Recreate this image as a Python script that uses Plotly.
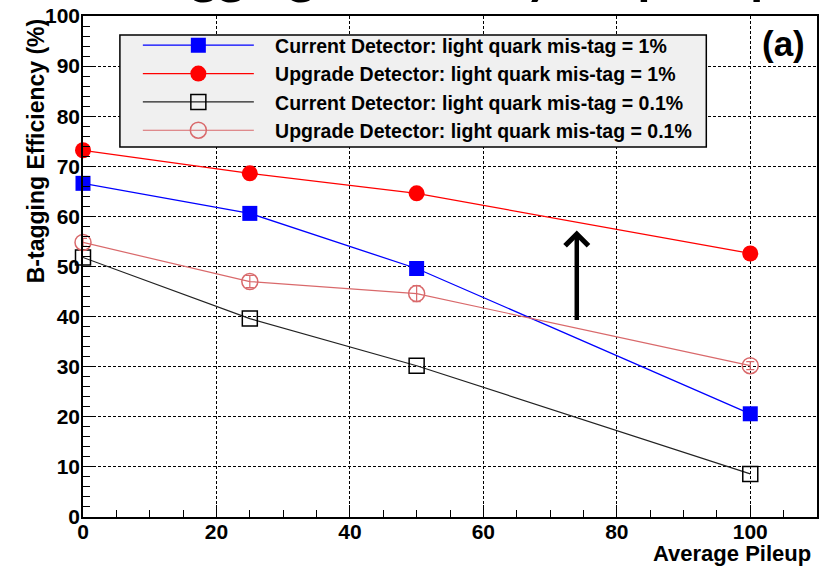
import plotly.graph_objects as go

pileup = [0, 25, 50, 100]
cur_1pct = [66.6, 60.6, 49.6, 20.6]
upg_1pct = [73.2, 68.6, 64.6, 52.6]
cur_01pct = [51.8, 39.6, 30.2, 8.6]
upg_01pct = [54.8, 47.0, 44.6, 30.2]
upg_01pct_err = [0.8, 1.2, 1.6, 0.8]

names = [
    "Current Detector: light quark mis-tag = 1%",
    "Upgrade Detector: light quark mis-tag = 1%",
    "Current Detector: light quark mis-tag = 0.1%",
    "Upgrade Detector: light quark mis-tag = 0.1%",
]

arrow_x = 74
arrow_y0 = 39.0
arrow_y1 = 57.2

FONT = "Liberation Sans, Arial, sans-serif"
PINK = "#d9696b"
PAD = "\u00a0\u00a0\u00a0"

fig = go.Figure()
fig.add_trace(go.Scatter(x=pileup, y=cur_1pct, mode="lines+markers", name=PAD + names[0],
                         cliponaxis=False,
                         line=dict(color="#0000ff", width=1.3),
                         marker=dict(symbol="square", size=15, color="#0000ff")))
fig.add_trace(go.Scatter(x=pileup, y=upg_1pct, mode="lines+markers", name=PAD + names[1],
                         cliponaxis=False,
                         line=dict(color="#ff0000", width=1.3),
                         marker=dict(symbol="circle", size=16, color="#ff0000")))
fig.add_trace(go.Scatter(x=pileup, y=cur_01pct, mode="lines+markers", name=PAD + names[2],
                         cliponaxis=False,
                         line=dict(color="#222222", width=1.2),
                         marker=dict(symbol="square-open", size=15, color="#000000",
                                     line=dict(width=1.5))))
fig.add_trace(go.Scatter(x=pileup, y=upg_01pct, mode="lines+markers", name=PAD + names[3],
                         cliponaxis=False,
                         line=dict(color=PINK, width=1.2),
                         marker=dict(symbol="circle-open", size=16, color=PINK,
                                     line=dict(width=1.5)),
                         error_y=dict(type="data", array=upg_01pct_err, color=PINK,
                                      thickness=1.2, width=4)))

axis_common = dict(
    showline=True, linecolor="black", linewidth=1.5, mirror=True,
    ticks="inside", tickcolor="black", ticklen=12, tickwidth=1,
    showgrid=True, gridcolor="black", gridwidth=1, griddash="3px,2px",
    zeroline=False,
    tickfont=dict(family=FONT, size=21, color="black", weight="bold"),
)

fig.update_xaxes(range=[0, 110], tick0=0, dtick=20, ticklabelstandoff=-5,
                 minor=dict(ticks="inside", dtick=5, ticklen=7, tickcolor="black", showgrid=False),
                 **axis_common)
fig.update_yaxes(range=[0, 100], tick0=0, dtick=10, ticklabelstandoff=-3,
                 minor=dict(ticks="inside", dtick=2, ticklen=7, tickcolor="black", showgrid=False),
                 **axis_common)

fig.add_annotation(x=arrow_x, y=arrow_y1, ax=arrow_x, ay=arrow_y0, xref="x", yref="y",
                   axref="x", ayref="y", text="", showarrow=True, arrowhead=4,
                   arrowsize=1, arrowwidth=4.5, arrowcolor="black")

fig.add_annotation(text="B-tagging Efficiency (%)", xref="paper", yref="paper",
                   x=-0.064, y=0.73, textangle=-90, showarrow=False,
                   xanchor="center", yanchor="middle",
                   font=dict(family=FONT, size=23, color="black", weight="bold"))
fig.add_annotation(text="Average Pileup", xref="paper", yref="paper",
                   x=0.995, y=-0.072, xanchor="right", yanchor="middle", showarrow=False,
                   font=dict(family=FONT, size=22, color="black", weight="bold"))
fig.add_annotation(text="(a)", xref="paper", yref="paper",
                   x=0.955, y=0.945, xanchor="center", yanchor="middle", showarrow=False,
                   font=dict(family=FONT, size=35, color="black", weight="bold"))
fig.add_annotation(text="B-tagging Efficiency vs. pileup", xref="paper", yref="paper",
                   x=0.48, y=1.0, xanchor="center", yanchor="bottom", yshift=10,
                   showarrow=False,
                   font=dict(family="Lato, sans-serif", size=52, color="black", weight="bold"))

# legend frame (x: 120-708 px, y: 35-147 px)
fig.add_shape(type="rect", xref="paper", yref="paper",
              x0=(120 - 83) / 736, x1=(708 - 83) / 736,
              y0=(517 - 147) / 501, y1=(517 - 35) / 501,
              fillcolor="#f0f0f0", line=dict(color="black", width=1.5), layer="above")

fig.update_layout(
    width=819, height=567,
    margin=dict(l=83, r=0, t=16, b=50),
    plot_bgcolor="white", paper_bgcolor="white",
    showlegend=True,
    legend=dict(x=(138 - 83) / 736, y=0.980, xanchor="left", yanchor="top",
                bgcolor="rgba(0,0,0,0)", borderwidth=0,
                itemwidth=111,
                font=dict(family=FONT, size=19.5, color="black", weight="bold")),
)

fig.write_html("out.html")
